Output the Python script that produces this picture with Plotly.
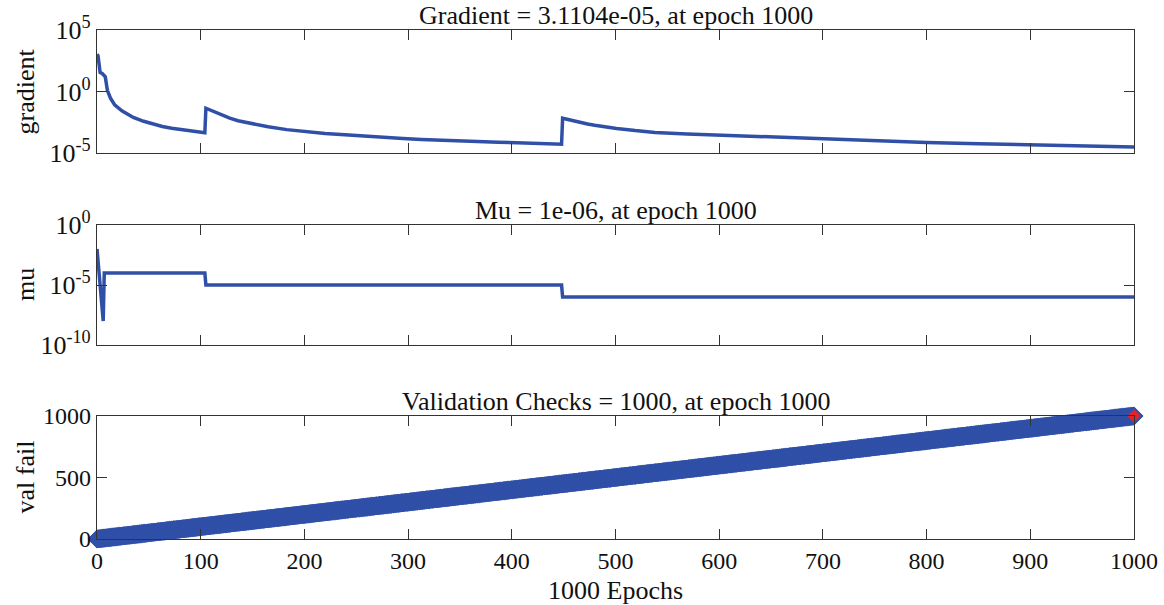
import plotly.graph_objects as go

# ---- data ----
grad_epochs = [0, 1, 3, 5, 8, 10, 13, 17, 24, 35, 45, 54, 63, 72, 81, 91, 104,
               105, 110, 116, 122, 128, 136, 145, 155, 165, 183, 202, 220, 239, 257, 276,
               295, 313, 331, 350, 368, 387, 405, 424, 448,
               449, 455, 460, 466, 473, 480, 490, 501, 519, 538, 569, 600, 650, 699,
               750, 800, 850, 900, 950, 1000]
grad_log = [3.03, 2.9, 1.54, 1.46, 1.19, 0.1, -0.54, -1.08, -1.57, -2.11, -2.42, -2.66, -2.84, -2.98,
            -3.1, -3.22, -3.36,
            -1.36, -1.55, -1.75, -1.97, -2.17, -2.38, -2.55, -2.72, -2.87, -3.1, -3.28, -3.41, -3.52,
            -3.64, -3.74, -3.83, -3.9, -3.97, -4.04, -4.08, -4.12, -4.16, -4.2, -4.28,
            -2.17, -2.3, -2.4, -2.52, -2.64, -2.75, -2.88, -3.0, -3.18, -3.33, -3.45, -3.55, -3.72,
            -3.88, -4.02, -4.15, -4.25, -4.34, -4.42, -4.507]
grad_values = [10 ** v for v in grad_log]

mu_epochs = [0, 1, 2, 3, 4, 5, 6, 7, 104, 105, 448, 449, 1000]
mu_values = [1e-2, 1e-3, 1e-4, 1e-5, 1e-6, 1e-7, 1e-8, 1e-4, 1e-4, 1e-5, 1e-5, 1e-6, 1e-6]

val_epochs = list(range(0, 1001))
val_fail = list(range(0, 1001))
best_epoch = [1000]
best_val = [1000]

titles = ["Gradient = 3.1104e-05, at epoch 1000",
          "Mu = 1e-06, at epoch 1000",
          "Validation Checks = 1000, at epoch 1000"]
ylabels = ["gradient", "mu", "val fail"]
xlabel = "1000 Epochs"
x_ticks = [0, 100, 200, 300, 400, 500, 600, 700, 800, 900, 1000]

# ---- styling ----
W, H = 1164, 605
BLUE = "#3050a8"
AX = "#333333"
FONT = "Liberation Serif"
TXT = "#111111"
x0, x1 = 97 / W, 1134 / W
doms = [(1 - 153 / H, 1 - 30 / H), (1 - 345 / H, 1 - 225 / H), (1 - 539 / H, 1 - 416 / H)]

fig = go.Figure()
fig.add_trace(go.Scatter(x=grad_epochs, y=grad_values, mode="lines",
                         line=dict(color=BLUE, width=3.5), xaxis="x", yaxis="y"))
fig.add_trace(go.Scatter(x=mu_epochs, y=mu_values, mode="lines",
                         line=dict(color=BLUE, width=3.5), xaxis="x2", yaxis="y2"))
fig.add_trace(go.Scatter(x=val_epochs, y=val_fail, mode="markers",
                         marker=dict(symbol="diamond", size=14, color=BLUE,
                                     line=dict(color=BLUE, width=1)),
                         cliponaxis=False, xaxis="x3", yaxis="y3"))
fig.add_trace(go.Scatter(x=best_epoch, y=best_val, mode="markers",
                         marker=dict(symbol="diamond", size=10, color="#e8202a",
                                     line=dict(width=0)),
                         cliponaxis=False, xaxis="x3", yaxis="y3"))

common_x = dict(range=[0, 1000], tickvals=x_ticks, ticks="inside", ticklen=10, tickwidth=1,
                tickcolor=AX, showline=True, linecolor=AX, linewidth=1.2, mirror="ticks",
                showgrid=False, zeroline=False, domain=[x0, x1], automargin=False,
                tickfont=dict(family=FONT, size=24, color=TXT))
common_y = dict(ticks="inside", ticklen=10, tickwidth=1, tickcolor=AX, showline=True,
                linecolor=AX, linewidth=1.2, mirror="ticks", showgrid=False, zeroline=False,
                automargin=False)

fig.update_layout(
    template="none",
    width=W, height=H, margin=dict(l=0, r=0, t=0, b=0, pad=0),
    paper_bgcolor="white", plot_bgcolor="white", showlegend=False,
    font=dict(family=FONT, size=24, color=TXT),
    xaxis=dict(**common_x, anchor="y", showticklabels=False),
    xaxis2=dict(**common_x, anchor="y2", showticklabels=False),
    xaxis3=dict(**common_x, anchor="y3", showticklabels=True),
    yaxis=dict(**common_y, type="log", range=[-5, 5], domain=list(doms[0]), anchor="x",
               tickvals=[1e-5, 1, 1e5], tickfont=dict(family=FONT, size=26, color=TXT),
               ticktext=["10<sup>-5</sup>", "10<sup>0</sup>", "10<sup>5</sup>"]),
    yaxis2=dict(**common_y, type="log", range=[-10, 0], domain=list(doms[1]), anchor="x2",
                tickvals=[1e-10, 1e-5, 1], tickfont=dict(family=FONT, size=26, color=TXT),
                ticktext=["10<sup>-10</sup>", "10<sup>-5</sup>", "10<sup>0</sup>"]),
    yaxis3=dict(**common_y, range=[0, 1000], domain=list(doms[2]), anchor="x3",
                tickvals=[0, 500, 1000], tickfont=dict(family=FONT, size=24, color=TXT)),
)

annots = []
for i, (t, yl) in enumerate(zip(titles, ylabels)):
    d0, d1 = doms[i]
    annots.append(dict(text=t, x=(x0 + x1) / 2, y=d1, xref="paper", yref="paper",
                       xanchor="center", yanchor="bottom", showarrow=False,
                       font=dict(family=FONT, size=26, color=TXT), yshift=-2))
    annots.append(dict(text=yl, x=25 / W, y=(d0 + d1) / 2, xref="paper", yref="paper",
                       xanchor="center", yanchor="middle", textangle=-90, showarrow=False,
                       font=dict(family=FONT, size=26, color=TXT)))
annots.append(dict(text=xlabel, x=(x0 + x1) / 2, y=1 - 590 / H, xref="paper", yref="paper",
                   xanchor="center", yanchor="middle", showarrow=False,
                   font=dict(family=FONT, size=26, color=TXT)))
fig.update_layout(annotations=annots)

fig.write_html("out.html")
